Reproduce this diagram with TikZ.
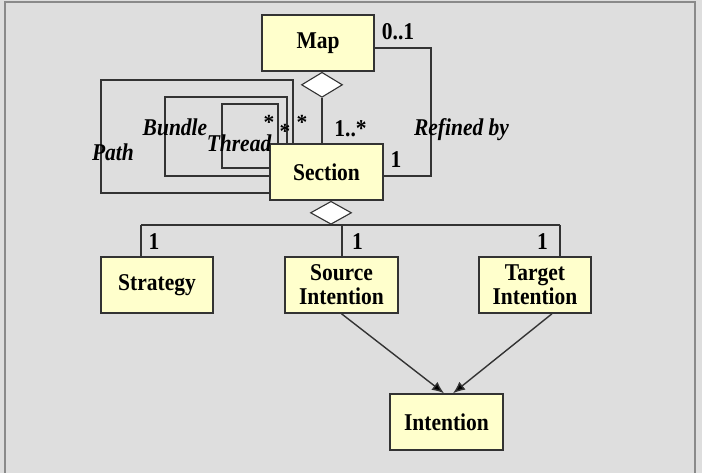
\documentclass[tikz,border=0pt]{standalone}
\usepackage{fontspec}
\setmainfont{Liberation Serif}
\usetikzlibrary{arrows.meta,shapes.geometric}
\definecolor{bgc}{HTML}{DEDEDE}
\definecolor{boxc}{HTML}{FFFFCC}
\definecolor{linec}{HTML}{333333}
\definecolor{framec}{HTML}{8A8A8A}
\newcommand\tall[1]{\scalebox{1}[1.12]{#1}}
\begin{document}
\begin{tikzpicture}[x=1pt,y=-1pt,
  cls/.style={draw=linec,line width=1.5pt,fill=boxc,minimum width=112pt,minimum height=56pt,inner sep=0pt,
    font=\fontsize{21.5}{24}\selectfont\bfseries,align=center},
  agg/.style={diamond,draw=linec,line width=1.1pt,fill=white,minimum width=41pt,minimum height=25pt,inner sep=0pt,aspect=1.6},
  conn/.style={draw=linec,line width=1.4pt},
  mult/.style={anchor=base,inner sep=0pt,font=\fontsize{21.5}{24}\selectfont\bfseries},
  role/.style={anchor=base,inner sep=0pt,font=\fontsize{21.5}{24}\selectfont\bfseries\itshape},
  arr/.style={conn,-{Latex[length=12pt,width=10pt,fill=black]}}]
\fill[bgc] (0,0) rectangle (702,473);
\useasboundingbox (0,0) rectangle (702,473);
\draw[framec,line width=2pt] (5,480) -- (5,2) -- (695,2) -- (695,480);

% classes
\node[cls] (map) at (318,43) {\tall{Map}};
\node[cls,minimum width=113pt] (sec) at (326.5,172) {\tall{Section}};
\node[cls] (str) at (157,285) {\tall{Strategy}};
\node[cls,minimum width=113pt] (src) at (341.5,285) {\tall{Source}\\\tall{Intention}};
\node[cls] (tgt) at (535,285) {\tall{Target}\\\tall{Intention}};
\node[cls,minimum width=113pt] (int) at (446.5,422) {\tall{Intention}};

% aggregation diamonds
\node[agg,anchor=north] (d1) at ([xshift=4pt]map.south) {};
\node[agg,anchor=north,minimum height=23pt] (d2) at ([xshift=4.5pt]sec.south) {};

% Map -- Section
\draw[conn] (d1.south) -- (d1.south |- sec.north);
\coordinate (rf1) at (431,48);
\coordinate (rf2) at (431,176);
\draw[conn] (map.east |- rf1) -- (rf1) -- (rf2) -- (sec.east |- rf2);

% self loops
\draw[conn] (sec.west |- 0,193) -- (101,193) -- (101,80) -- (293,80) -- (293,0 |- sec.north);
\draw[conn] (sec.west |- 0,176) -- (165,176) -- (165,97) -- (287,97) -- (287,0 |- sec.north);
\draw[conn] (sec.west |- 0,168) -- (222,168) -- (222,104) -- (278,104) -- (278,0 |- sec.north);

% Section composition
\coordinate (hl) at (141,225);
\coordinate (hm) at (342,225);
\coordinate (hr) at (560,225);
\draw[conn] (hl) -- (hr);
\draw[conn] (d2.south) -- (d2.south |- hl);
\draw[conn] (hl) -- (hl |- str.north);
\draw[conn] (hm) -- (hm |- src.north);
\draw[conn] (hr) -- (hr |- tgt.north);

% arrows
\draw[arr] (src.south) -- ([xshift=-2.5pt]int.north);
\draw[arr] ([xshift=17pt]tgt.south) -- ([xshift=6.5pt]int.north);

% labels
\node[mult] (l01) at (398,40) {\tall{0..1}};
\node[mult] (l1r) at (396,168) {\tall{1}};
\node[mult] (l1s) at (350.5,137) {\tall{1..*}};
\node[mult] (st1) at (269,130) {*};
\node[mult] (st2) at (285,139) {*};
\node[mult] (st3) at (302,130) {*};
\node[role] (lb) at (175,136) {\tall{Bundle}};
\node[role] (lt) at (239,152) {\tall{Thread}};
\node[role] (lp) at (113,161) {\tall{Path}};
\node[role] (lr) at (461.5,136) {\tall{Refined by}};
\node[mult] (m1) at (154,250) {\tall{1}};
\node[mult] (m2) at (357.5,250) {\tall{1}};
\node[mult] (m3) at (542.5,250) {\tall{1}};
\end{tikzpicture}
\end{document}
